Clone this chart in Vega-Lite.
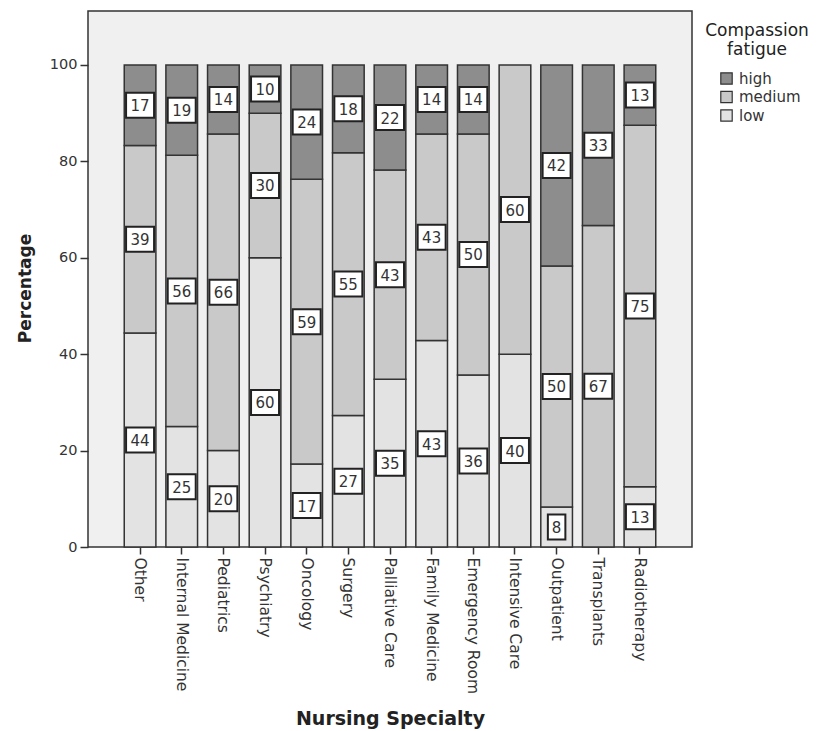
{
  "$schema": "https://vega.github.io/schema/vega-lite/v6.json",
  "width": 604,
  "height": 536,
  "autosize": {"type": "none"},
  "padding": {"left": 88, "top": 11, "right": 127, "bottom": 184},
  "background": "white",
  "config": {
    "view": {"fill": "#f0f0f0", "stroke": "#333333", "strokeWidth": 1.5},
    "font": "DejaVu Sans",
    "axis": {"grid": false, "domainColor": "#333333", "domainWidth": 1.5, "tickColor": "#333333", "tickWidth": 1.5, "labelColor": "#333333", "titleColor": "#222222", "labelFont": "DejaVu Sans", "titleFont": "DejaVu Sans"}
  },
  "data": {
    "values": [
      {"specialty": "Other", "level": "low", "pct": 44.4},
      {"specialty": "Other", "level": "medium", "pct": 38.9},
      {"specialty": "Other", "level": "high", "pct": 16.7},
      {"specialty": "Internal Medicine", "level": "low", "pct": 25.0},
      {"specialty": "Internal Medicine", "level": "medium", "pct": 56.25},
      {"specialty": "Internal Medicine", "level": "high", "pct": 18.75},
      {"specialty": "Pediatrics", "level": "low", "pct": 20.0},
      {"specialty": "Pediatrics", "level": "medium", "pct": 65.7},
      {"specialty": "Pediatrics", "level": "high", "pct": 14.3},
      {"specialty": "Psychiatry", "level": "low", "pct": 60.0},
      {"specialty": "Psychiatry", "level": "medium", "pct": 30.0},
      {"specialty": "Psychiatry", "level": "high", "pct": 10.0},
      {"specialty": "Oncology", "level": "low", "pct": 17.2},
      {"specialty": "Oncology", "level": "medium", "pct": 59.1},
      {"specialty": "Oncology", "level": "high", "pct": 23.7},
      {"specialty": "Surgery", "level": "low", "pct": 27.3},
      {"specialty": "Surgery", "level": "medium", "pct": 54.5},
      {"specialty": "Surgery", "level": "high", "pct": 18.2},
      {"specialty": "Palliative Care", "level": "low", "pct": 34.8},
      {"specialty": "Palliative Care", "level": "medium", "pct": 43.4},
      {"specialty": "Palliative Care", "level": "high", "pct": 21.8},
      {"specialty": "Family Medicine", "level": "low", "pct": 42.85},
      {"specialty": "Family Medicine", "level": "medium", "pct": 42.85},
      {"specialty": "Family Medicine", "level": "high", "pct": 14.3},
      {"specialty": "Emergency Room", "level": "low", "pct": 35.7},
      {"specialty": "Emergency Room", "level": "medium", "pct": 50.0},
      {"specialty": "Emergency Room", "level": "high", "pct": 14.3},
      {"specialty": "Intensive Care", "level": "low", "pct": 40.0},
      {"specialty": "Intensive Care", "level": "medium", "pct": 60.0},
      {"specialty": "Outpatient", "level": "low", "pct": 8.3},
      {"specialty": "Outpatient", "level": "medium", "pct": 50.0},
      {"specialty": "Outpatient", "level": "high", "pct": 41.7},
      {"specialty": "Transplants", "level": "medium", "pct": 66.7},
      {"specialty": "Transplants", "level": "high", "pct": 33.3},
      {"specialty": "Radiotherapy", "level": "low", "pct": 12.5},
      {"specialty": "Radiotherapy", "level": "medium", "pct": 75.0},
      {"specialty": "Radiotherapy", "level": "high", "pct": 12.5}
    ]
  },
  "transform": [
    {"calculate": "indexof(['low','medium','high'], datum.level)", "as": "ord"},
    {"stack": "pct", "groupby": ["specialty"], "sort": [{"field": "ord", "order": "ascending"}], "as": ["y0", "y1"]},
    {"calculate": "(datum.y0 + datum.y1) / 2", "as": "ymid"}
  ],
  "encoding": {
    "x": {
      "field": "specialty",
      "type": "nominal",
      "sort": ["Other", "Internal Medicine", "Pediatrics", "Psychiatry", "Oncology", "Surgery", "Palliative Care", "Family Medicine", "Emergency Room", "Intensive Care", "Outpatient", "Transplants", "Radiotherapy"],
      "scale": {"paddingInner": 0.24, "paddingOuter": 0.87},
      "title": "Nursing Specialty",
      "axis": {
        "labelAngle": 90,
        "labelFontSize": 15.5,
        "tickSize": 7,
        "labelPadding": 3,
        "domain": false,
        "titleFontSize": 19,
        "titleFontWeight": "bold",
        "titleY": 162,
        "titleBaseline": "top"
      }
    }
  },
  "layer": [
    {
      "mark": {"type": "bar", "stroke": "#333333", "strokeWidth": 1.5},
      "encoding": {
        "y": {
          "field": "y0",
          "type": "quantitative",
          "title": "Percentage",
          "scale": {"domain": [0, 111.2], "nice": false, "zero": true},
          "axis": {
            "values": [0, 20, 40, 60, 80, 100],
            "labelFontSize": 14.5,
            "tickSize": 8,
            "labelPadding": 3,
            "domain": false,
            "titleFontSize": 17,
            "titleFontWeight": "bold",
            "titleX": -63,
            "titleY": 277,
            "titleBaseline": "middle",
            "titleAngle": -90
          }
        },
        "y2": {"field": "y1"},
        "color": {
          "field": "level",
          "type": "nominal",
          "scale": {"domain": ["high", "medium", "low"], "range": ["#8d8d8d", "#c9c9c9", "#e3e3e3"]},
          "legend": {
            "orient": "none",
            "legendX": 617,
            "legendY": 12,
            "title": ["Compassion", "fatigue"],
            "titleAnchor": "middle",
            "titleAlign": "center",
            "titleFontSize": 17,
            "titleFontWeight": "normal",
            "titleColor": "#222222",
            "titleLineHeight": 19,
            "titlePadding": 12,
            "labelFontSize": 15,
            "labelColor": "#333333",
            "labelOffset": 5,
            "symbolOffset": 5,
            "symbolType": "square",
            "symbolSize": 130,
            "symbolStrokeColor": "#333333",
            "symbolStrokeWidth": 1.2,
            "rowPadding": 1.5
          }
        }
      }
    },
    {
      "transform": [{"filter": "datum.pct >= 9.5"}],
      "mark": {"type": "point", "shape": "M-1.12,-1H1.12V1H-1.12Z", "size": 625, "filled": true, "fill": "white", "stroke": "#222222", "strokeWidth": 2, "opacity": 1},
      "encoding": {"y": {"field": "ymid", "type": "quantitative", "title": "Percentage"}}
    },
    {
      "transform": [{"filter": "datum.pct > 0 && datum.pct < 9.5"}],
      "mark": {"type": "point", "shape": "M-0.7,-1H0.7V1H-0.7Z", "size": 625, "filled": true, "fill": "white", "stroke": "#222222", "strokeWidth": 2, "opacity": 1},
      "encoding": {"y": {"field": "ymid", "type": "quantitative", "title": "Percentage"}}
    },
    {
      "transform": [{"filter": "datum.pct > 0"}],
      "mark": {"type": "text", "fontSize": 15, "color": "#333333", "dy": 1},
      "encoding": {
        "y": {"field": "ymid", "type": "quantitative", "title": "Percentage"},
        "text": {"field": "pct", "type": "quantitative", "format": ".0f"}
      }
    }
  ]
}
